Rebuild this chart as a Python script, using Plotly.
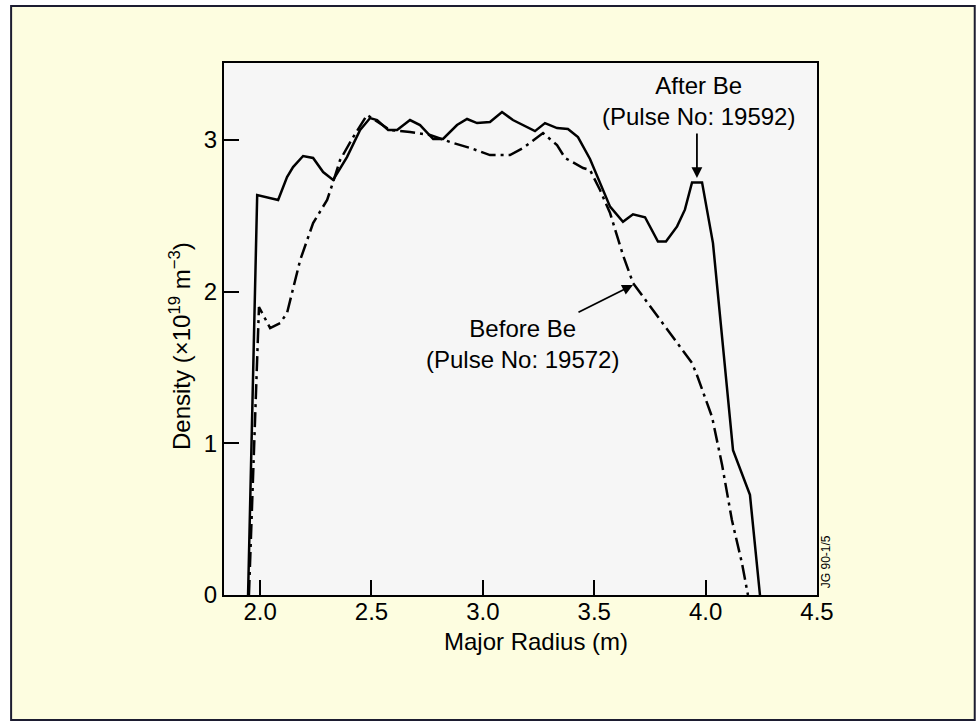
import plotly.graph_objects as go

# density profiles (major radius in m, density in 1e19 m^-3)
after_r = [1.946, 1.987, 2.081, 2.121, 2.148, 2.193, 2.238, 2.283, 2.328, 2.390,
           2.449, 2.494, 2.525, 2.575, 2.615, 2.673, 2.718, 2.777, 2.821, 2.884,
           2.929, 2.974, 3.032, 3.086, 3.135, 3.234, 3.279, 3.333, 3.382, 3.427,
           3.481, 3.540, 3.571, 3.629, 3.674, 3.728, 3.786, 3.822, 3.872, 3.907,
           3.939, 3.984, 4.033, 4.123, 4.199, 4.244]
after_n = [0.0, 2.637, 2.604, 2.755, 2.821, 2.894, 2.881, 2.788, 2.736, 2.887,
           3.065, 3.144, 3.131, 3.065, 3.065, 3.131, 3.098, 3.006, 3.006, 3.098,
           3.138, 3.111, 3.118, 3.184, 3.131, 3.058, 3.111, 3.078, 3.072, 3.019,
           2.874, 2.676, 2.560, 2.460, 2.510, 2.490, 2.330, 2.330, 2.430, 2.540,
           2.720, 2.720, 2.320, 0.955, 0.660, 0.0]

before_r = [1.950, 1.995, 2.045, 2.090, 2.121, 2.180, 2.238, 2.301, 2.328, 2.359,
            2.418, 2.480, 2.584, 2.673, 2.763, 2.853, 2.943, 3.032, 3.122, 3.181,
            3.270, 3.333, 3.369, 3.450, 3.481, 3.526, 3.571, 3.629, 3.674, 3.764,
            3.872, 3.939, 3.961, 4.029, 4.074, 4.118, 4.163, 4.190]
before_n = [0.0, 1.898, 1.760, 1.793, 1.859, 2.208, 2.452, 2.604, 2.723, 2.867,
            3.019, 3.164, 3.065, 3.052, 3.032, 2.986, 2.947, 2.900, 2.900, 2.947,
            3.045, 2.966, 2.881, 2.815, 2.802, 2.670, 2.518, 2.241, 2.057, 1.879,
            1.661, 1.529, 1.450, 1.173, 0.857, 0.494, 0.211, 0.0]

x_ticks = [2.0, 2.5, 3.0, 3.5, 4.0, 4.5]
x_tick_text = ['2.0', '2.5', '3.0', '3.5', '4.0', '4.5']
y_ticks = [0, 1, 2, 3]

font_family = 'Liberation Sans, Arial, Helvetica, sans-serif'

fig = go.Figure()
fig.add_trace(go.Scatter(x=before_r, y=before_n, mode='lines',
                         line=dict(color='black', width=2.5, dash='15px,5px,3px,5px'),
                         name='Before Be'))
fig.add_trace(go.Scatter(x=after_r, y=after_n, mode='lines',
                         line=dict(color='black', width=2.5),
                         name='After Be'))

axis_style = dict(showline=True, linecolor='black', linewidth=2, mirror=True,
                  ticks='inside', ticklen=15, tickwidth=2, tickcolor='black',
                  showgrid=False, zeroline=False,
                  tickfont=dict(size=24, color='black', family=font_family))
fig.update_xaxes(range=[1.838, 4.5], tickvals=x_ticks, ticktext=x_tick_text,
                 ticklabelstandoff=-6, **axis_style)
fig.update_yaxes(range=[0, 3.507], tickvals=y_ticks, **axis_style)

annotations = [
    dict(x=3.966, y=3.256, text='After Be<br>(Pulse No: 19592)', showarrow=False,
         xanchor='center', yanchor='middle'),
    dict(x=3.176, y=1.655, text='Before Be<br>(Pulse No: 19572)', showarrow=False,
         xanchor='center', yanchor='middle'),
    dict(x=3.961, y=2.749, text='', showarrow=True, ax=0, ay=-46,
         arrowhead=2, arrowsize=1.2, arrowwidth=1.8, arrowcolor='black'),
    dict(x=3.674, y=2.044, text='', showarrow=True, ax=-56, ay=28,
         arrowhead=2, arrowsize=1.2, arrowwidth=1.8, arrowcolor='black'),
    dict(xref='paper', yref='paper', x=0.526, y=-0.088, text='Major Radius (m)',
         showarrow=False, xanchor='center', yanchor='middle'),
    dict(xref='paper', yref='paper', x=-0.0742, y=0.468,
         text='Density (×10<sup>19</sup> m<sup>−3</sup>)', textangle=-90,
         showarrow=False, xanchor='center', yanchor='middle'),
    dict(xref='paper', yref='paper', x=1.0155, y=0.062, text='JG 90-1/5', textangle=-90,
         showarrow=False, xanchor='center', yanchor='middle',
         font=dict(size=12, family='Liberation Sans Narrow, Arial Narrow, Liberation Sans')),
]

fig.update_layout(
    width=979, height=725,
    margin=dict(l=224, r=162, t=63, b=130),
    paper_bgcolor='white',
    plot_bgcolor='#f6f6f6',
    showlegend=False,
    font=dict(family=font_family, size=24, color='black'),
    annotations=annotations,
    shapes=[
        # cream page panel with its dark frame
        dict(type='rect', xref='paper', yref='paper', layer='below',
             x0=-0.359, x1=1.266, y0=-0.235, y1=1.107,
             fillcolor='#fdfde0', line=dict(color='#1c1c30', width=2)),
        # light grey plotting field on top of the panel
        dict(type='rect', xref='paper', yref='paper', layer='below',
             x0=0, x1=1, y0=0, y1=1,
             fillcolor='#f6f6f6', line=dict(width=0)),
    ],
)

# drop the page's default body margin so the figure sits at the window corner
fig.write_html('out.html', config={'displayModeBar': False},
               post_script="document.body.style.margin='0';")
